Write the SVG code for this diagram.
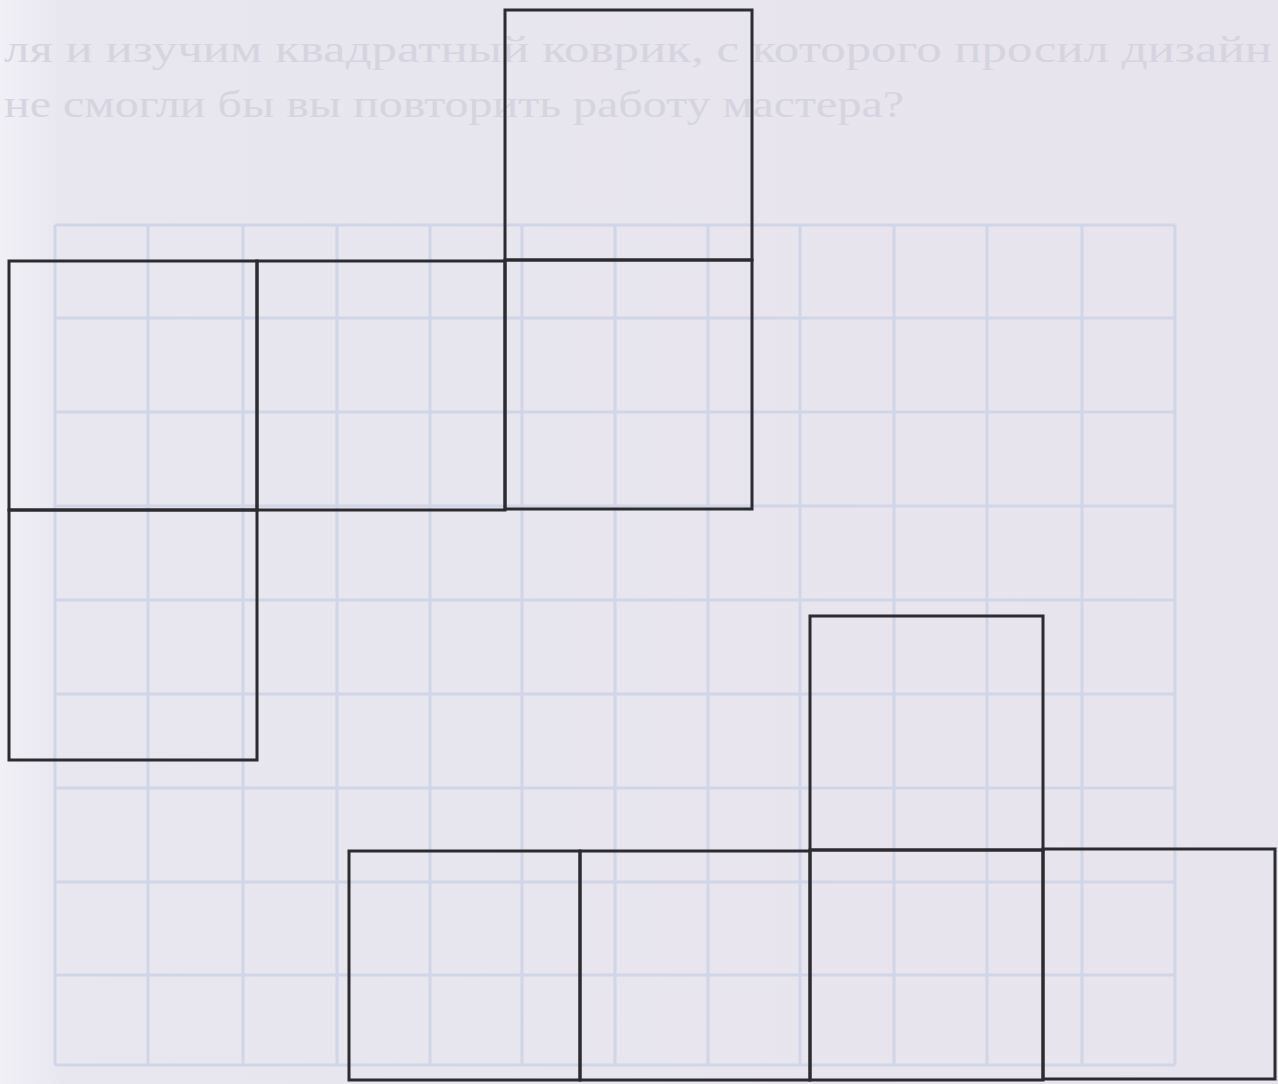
<svg xmlns="http://www.w3.org/2000/svg" width="1278" height="1084" viewBox="0 0 1278 1084">
  <defs>
    <linearGradient id="paper" x1="0" y1="0" x2="1" y2="0">
      <stop offset="0" stop-color="#f1f0f6"/>
      <stop offset="0.05" stop-color="#e8e6ef"/>
      <stop offset="1" stop-color="#e7e4ed"/>
    </linearGradient>
    <style>
      .ghost { font-family: "Liberation Serif", "Times New Roman", serif; font-size: 38px; fill: #d6d4e0; }
      .grid line { stroke: #d0d6e8; stroke-width: 3; }
      .sq { fill: none; stroke: #2b2b30; stroke-width: 3; stroke-linejoin: miter; }
    </style>
  </defs>

  <rect x="0" y="0" width="1278" height="1084" fill="url(#paper)"/>

  <g id="faint-text">
    <text class="ghost" x="4" y="62" textLength="1268" lengthAdjust="spacingAndGlyphs">ля и изучим квадратный коврик, с которого просил дизайн</text>
    <text class="ghost" x="4" y="117" textLength="900" lengthAdjust="spacingAndGlyphs">не смогли бы вы повторить работу мастера?</text>
  </g>

  <g id="grid" class="grid">
    <line x1="55" y1="225" x2="55" y2="1065"/>
    <line x1="148" y1="225" x2="148" y2="1065"/>
    <line x1="243" y1="225" x2="243" y2="1065"/>
    <line x1="337" y1="225" x2="337" y2="1065"/>
    <line x1="430" y1="225" x2="430" y2="1065"/>
    <line x1="522" y1="225" x2="522" y2="1065"/>
    <line x1="615" y1="225" x2="615" y2="1065"/>
    <line x1="708" y1="225" x2="708" y2="1065"/>
    <line x1="800" y1="225" x2="800" y2="1065"/>
    <line x1="894" y1="225" x2="894" y2="1065"/>
    <line x1="987" y1="225" x2="987" y2="1065"/>
    <line x1="1082" y1="225" x2="1082" y2="1065"/>
    <line x1="1175" y1="225" x2="1175" y2="1065"/>
    <line x1="55" y1="225" x2="1175" y2="225"/>
    <line x1="55" y1="318" x2="1175" y2="318"/>
    <line x1="55" y1="412" x2="1175" y2="412"/>
    <line x1="55" y1="506" x2="1175" y2="506"/>
    <line x1="55" y1="600" x2="1175" y2="600"/>
    <line x1="55" y1="694" x2="1175" y2="694"/>
    <line x1="55" y1="788" x2="1175" y2="788"/>
    <line x1="55" y1="882" x2="1175" y2="882"/>
    <line x1="55" y1="975" x2="1175" y2="975"/>
    <line x1="55" y1="1065" x2="1175" y2="1065"/>
  </g>

  <g id="top-figure">
    <g id="sq-top"><rect class="sq" x="505" y="10" width="247" height="250"/></g>
    <g id="sq-row1-1"><rect class="sq" x="9" y="261" width="248" height="249"/></g>
    <g id="sq-row1-2"><rect class="sq" x="257" y="261" width="248" height="249"/></g>
    <g id="sq-row1-3"><rect class="sq" x="505" y="260" width="247" height="249"/></g>
    <g id="sq-bottom-left"><rect class="sq" x="9" y="510" width="248" height="250"/></g>
  </g>

  <g id="bottom-figure">
    <g id="sq-b-top"><rect class="sq" x="810" y="616" width="233" height="234"/></g>
    <g id="sq-b-1"><rect class="sq" x="349" y="851" width="231" height="229"/></g>
    <g id="sq-b-2"><rect class="sq" x="580" y="851" width="230" height="229"/></g>
    <g id="sq-b-3"><rect class="sq" x="810" y="850" width="233" height="230"/></g>
    <g id="sq-b-4"><rect class="sq" x="1043" y="849" width="232" height="230"/></g>
  </g>

  <g id="connectors"/>
</svg>
